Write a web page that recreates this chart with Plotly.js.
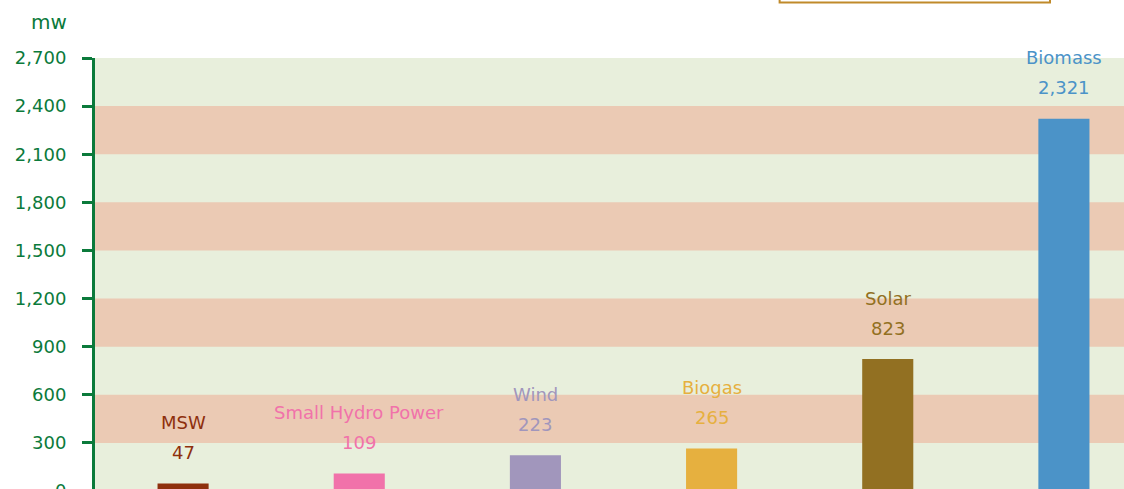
<!DOCTYPE html>
<html>
<head>
<meta charset="utf-8">
<script src="https://cdn.plot.ly/plotly-3.0.1.min.js"></script>
<style>
html, body { margin: 0; padding: 0; overflow: hidden; background: #ffffff; }
#chart { width: 1200px; height: 540px; }
</style>
</head>
<body>
<div id="chart"></div>
<script>
// Data
const categories = ["MSW", "Small Hydro Power", "Wind", "Biogas", "Solar", "Biomass"];
const capacityMW = [47, 109, 223, 265, 823, 2321];
const barColors = ["#8e300d", "#f172aa", "#a196bc", "#e6b03f", "#927022", "#4b93c8"];
const yTickValues = [0, 300, 600, 900, 1200, 1500, 1800, 2100, 2400, 2700];
const unitLabel = "mw";

const green = "#0b7a3b";
const fontFamily = "DejaVu Sans, Verdana, sans-serif";

// Alternating horizontal bands between tick values
const shapes = [];
for (let i = 0; i < yTickValues.length - 1; i++) {
  if (i % 2 === 1) {
    shapes.push({
      type: "rect", xref: "paper", yref: "y", layer: "below",
      x0: 0, x1: 1, y0: yTickValues[i], y1: yTickValues[i + 1],
      fillcolor: "#ebcab4", line: { width: 0 }
    });
  }
}
// Partially visible legend box at the top
shapes.push({
  type: "rect", xref: "paper", yref: "paper",
  x0: 0.6477, x1: 0.9035, y0: 1.128, y1: 1.4,
  fillcolor: "rgba(255,255,255,0)", line: { color: "#c08a2a", width: 2 }
});

const annotations = [];
categories.forEach((c, i) => {
  annotations.push({
    x: c, y: capacityMW[i], xref: "x", yref: "y",
    text: capacityMW[i].toLocaleString("en-US"),
    showarrow: false, yanchor: "middle", yshift: 31,
    font: { family: fontFamily, size: 18, color: barColors[i] }
  });
  annotations.push({
    x: c, y: capacityMW[i], xref: "x", yref: "y",
    text: c,
    showarrow: false, yanchor: "middle", yshift: 61,
    font: { family: fontFamily, size: 18, color: barColors[i] }
  });
});
annotations.push({
  xref: "paper", yref: "paper", x: 0, y: 1,
  xanchor: "right", yanchor: "middle",
  xshift: -26, yshift: 36,
  text: unitLabel, showarrow: false,
  font: { family: fontFamily, size: 20, color: green }
});

const trace = {
  type: "bar",
  x: categories,
  y: capacityMW,
  marker: { color: barColors },
  hoverinfo: "x+y"
};

const layout = {
  width: 1200, height: 540,
  margin: { l: 95, r: 48, t: 58, b: 49, pad: 0 },
  paper_bgcolor: "#ffffff",
  plot_bgcolor: "#e8efdc",
  showlegend: false,
  bargap: 0.71,
  font: { family: fontFamily, color: green },
  xaxis: {
    type: "category",
    showticklabels: false,
    showgrid: false,
    zeroline: false,
    showline: false,
    ticks: ""
  },
  yaxis: {
    range: [0, 2700],
    tickvals: yTickValues,
    tickformat: ",",
    showgrid: false,
    zeroline: false,
    showline: true,
    linecolor: green,
    linewidth: 3,
    ticks: "outside",
    ticklen: 10,
    tickwidth: 3,
    tickcolor: green,
    ticklabelstandoff: 12,
    tickfont: { family: fontFamily, size: 18, color: green }
  },
  shapes: shapes,
  annotations: annotations
};

Plotly.newPlot("chart", [trace], layout, { displayModeBar: false, staticPlot: true });
</script>
</body>
</html>
